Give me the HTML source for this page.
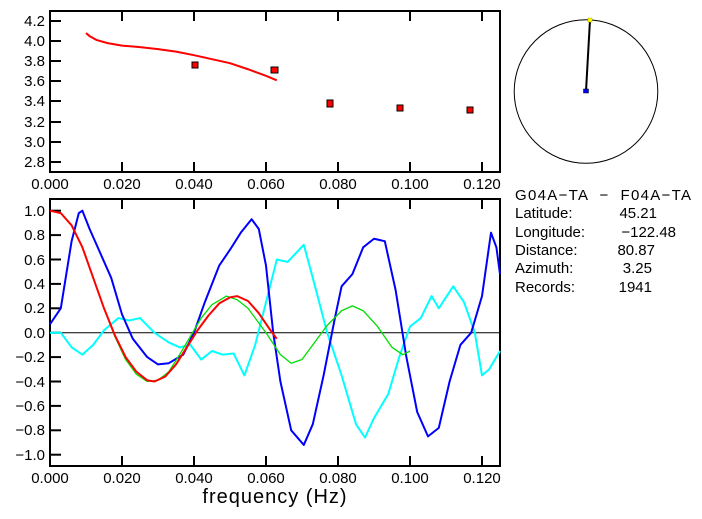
<!DOCTYPE html>
<html><head><style>
html,body{margin:0;padding:0;background:#fff;}
svg{display:block;font-family:"Liberation Sans",sans-serif;}
</style></head><body>
<svg width="702" height="519" viewBox="0 0 702 519" xmlns="http://www.w3.org/2000/svg">
<rect width="702" height="519" fill="#fff"/>
<!-- top frame -->
<rect x="50" y="11" width="450" height="161" fill="none" stroke="#000" stroke-width="2"/>
<g stroke="#000" stroke-width="2">
<line x1="122" y1="172" x2="122" y2="162"/><line x1="194" y1="172" x2="194" y2="162"/><line x1="266" y1="172" x2="266" y2="162"/><line x1="338" y1="172" x2="338" y2="162"/><line x1="410" y1="172" x2="410" y2="162"/><line x1="482" y1="172" x2="482" y2="162"/>
<line x1="122" y1="11" x2="122" y2="21"/><line x1="194" y1="11" x2="194" y2="21"/><line x1="266" y1="11" x2="266" y2="21"/><line x1="338" y1="11" x2="338" y2="21"/><line x1="410" y1="11" x2="410" y2="21"/><line x1="482" y1="11" x2="482" y2="21"/>
<line x1="50" y1="21" x2="61" y2="21"/><line x1="50" y1="41" x2="61" y2="41"/><line x1="50" y1="61" x2="61" y2="61"/><line x1="50" y1="81" x2="61" y2="81"/><line x1="50" y1="101" x2="61" y2="101"/><line x1="50" y1="122" x2="61" y2="122"/><line x1="50" y1="142" x2="61" y2="142"/><line x1="50" y1="162" x2="61" y2="162"/>
</g>
<g font-size="15" text-anchor="end">
<text x="45" y="26">4.2</text><text x="45" y="46">4.0</text><text x="45" y="66">3.8</text><text x="45" y="86">3.6</text><text x="45" y="106">3.4</text><text x="45" y="127">3.2</text><text x="45" y="147">3.0</text><text x="45" y="167">2.8</text>
</g>
<g font-size="15" text-anchor="middle">
<text x="50" y="189">0.000</text><text x="122" y="189">0.020</text><text x="194" y="189">0.040</text><text x="266" y="189">0.060</text><text x="338" y="189">0.080</text><text x="410" y="189">0.100</text><text x="482" y="189">0.120</text>
</g>
<g transform="matrix(3600 0 0 -100.5 50 443.1)">
<polyline fill="none" stroke="#f00" stroke-width="2" stroke-linejoin="round" vector-effect="non-scaling-stroke" points="0.010,4.08 0.011,4.05 0.013,4.01 0.016,3.98 0.02,3.955 0.025,3.94 0.03,3.92 0.035,3.895 0.04,3.86 0.045,3.82 0.05,3.78 0.055,3.72 0.06,3.655 0.063,3.61"/>
</g>
<g fill="#f00" stroke="#000" stroke-width="1">
<rect x="192" y="62" width="6" height="6"/><rect x="271" y="67" width="7" height="6"/><rect x="327" y="100" width="6" height="7"/><rect x="397" y="105" width="6" height="6"/><rect x="467" y="107" width="6" height="6"/>
</g>
<!-- bottom frame -->
<rect x="50" y="199" width="450" height="267" fill="none" stroke="#000" stroke-width="2"/>
<g stroke="#000" stroke-width="2">
<line x1="122" y1="466" x2="122" y2="456"/><line x1="194" y1="466" x2="194" y2="456"/><line x1="266" y1="466" x2="266" y2="456"/><line x1="338" y1="466" x2="338" y2="456"/><line x1="410" y1="466" x2="410" y2="456"/><line x1="482" y1="466" x2="482" y2="456"/>
<line x1="122" y1="199" x2="122" y2="209"/><line x1="194" y1="199" x2="194" y2="209"/><line x1="266" y1="199" x2="266" y2="209"/><line x1="338" y1="199" x2="338" y2="209"/><line x1="410" y1="199" x2="410" y2="209"/><line x1="482" y1="199" x2="482" y2="209"/>
<line x1="50" y1="210.7" x2="61" y2="210.7"/><line x1="50" y1="235.1" x2="61" y2="235.1"/><line x1="50" y1="259.5" x2="61" y2="259.5"/><line x1="50" y1="283.9" x2="61" y2="283.9"/><line x1="50" y1="308.3" x2="61" y2="308.3"/><line x1="50" y1="332.7" x2="61" y2="332.7"/><line x1="50" y1="357.1" x2="61" y2="357.1"/><line x1="50" y1="381.5" x2="61" y2="381.5"/><line x1="50" y1="405.9" x2="61" y2="405.9"/><line x1="50" y1="430.3" x2="61" y2="430.3"/><line x1="50" y1="454.7" x2="61" y2="454.7"/>
</g>
<line x1="50" y1="332.7" x2="500" y2="332.7" stroke="#000" stroke-width="1"/>
<g font-size="15" text-anchor="end">
<text x="45" y="216">1.0</text><text x="45" y="240">0.8</text><text x="45" y="265">0.6</text><text x="45" y="289">0.4</text><text x="45" y="313">0.2</text><text x="45" y="338">0.0</text><text x="45" y="362">−0.2</text><text x="45" y="387">−0.4</text><text x="45" y="411">−0.6</text><text x="45" y="435">−0.8</text><text x="45" y="460">−1.0</text>
</g>
<g font-size="15" text-anchor="middle">
<text x="50" y="483">0.000</text><text x="122" y="483">0.020</text><text x="194" y="483">0.040</text><text x="266" y="483">0.060</text><text x="338" y="483">0.080</text><text x="410" y="483">0.100</text><text x="482" y="483">0.120</text>
</g>
<text x="275" y="503" font-size="20" text-anchor="middle" letter-spacing="1">frequency (Hz)</text>
<g transform="matrix(3600 0 0 -122 50 332.7)" fill="none" stroke-linejoin="round">
<polyline stroke="#0ff" stroke-width="2" vector-effect="non-scaling-stroke" points="0,0 0.003,0 0.006,-0.12 0.009,-0.18 0.012,-0.1 0.015,0.02 0.019,0.12 0.022,0.1 0.025,0.12 0.029,0 0.033,-0.08 0.036,-0.12 0.039,-0.1 0.042,-0.22 0.045,-0.15 0.048,-0.18 0.051,-0.17 0.054,-0.35 0.057,-0.1 0.06,0.25 0.063,0.6 0.066,0.58 0.0705,0.72 0.073,0.45 0.077,0 0.081,-0.35 0.085,-0.75 0.0875,-0.86 0.09,-0.7 0.094,-0.5 0.097,-0.2 0.1,0.05 0.103,0.12 0.106,0.3 0.108,0.2 0.112,0.38 0.115,0.25 0.118,0 0.12,-0.35 0.122,-0.3 0.125,-0.15"/>
<polyline stroke="#00f" stroke-width="2" vector-effect="non-scaling-stroke" points="0,0.07 0.003,0.2 0.006,0.75 0.008,0.98 0.009,1 0.011,0.85 0.014,0.65 0.017,0.45 0.02,0.15 0.023,-0.05 0.027,-0.2 0.03,-0.26 0.033,-0.25 0.037,-0.18 0.04,0 0.043,0.25 0.047,0.55 0.05,0.68 0.053,0.82 0.056,0.93 0.058,0.85 0.06,0.55 0.062,0 0.064,-0.4 0.067,-0.8 0.0705,-0.92 0.073,-0.75 0.076,-0.35 0.079,0.1 0.081,0.38 0.084,0.48 0.087,0.7 0.09,0.77 0.093,0.75 0.096,0.35 0.099,-0.2 0.102,-0.65 0.105,-0.85 0.108,-0.78 0.111,-0.4 0.114,-0.1 0.117,0 0.12,0.3 0.1225,0.82 0.124,0.7 0.125,0.48"/>
<polyline stroke="#0d0" stroke-width="1.3" vector-effect="non-scaling-stroke" points="0.009,0.7 0.012,0.45 0.015,0.2 0.018,-0.03 0.021,-0.22 0.024,-0.34 0.027,-0.4 0.03,-0.39 0.033,-0.32 0.036,-0.18 0.039,-0.03 0.042,0.12 0.045,0.23 0.049,0.3 0.052,0.27 0.055,0.2 0.06,0 0.064,-0.18 0.067,-0.25 0.07,-0.22 0.073,-0.1 0.077,0.06 0.081,0.18 0.084,0.22 0.087,0.18 0.091,0.05 0.095,-0.12 0.098,-0.18 0.1,-0.15"/>
<polyline stroke="#f00" stroke-width="2" vector-effect="non-scaling-stroke" points="0,1 0.003,0.98 0.006,0.88 0.009,0.7 0.012,0.45 0.015,0.2 0.018,-0.02 0.021,-0.2 0.024,-0.32 0.027,-0.39 0.029,-0.4 0.032,-0.36 0.035,-0.26 0.038,-0.12 0.041,0.02 0.044,0.14 0.047,0.24 0.05,0.29 0.052,0.3 0.055,0.26 0.058,0.16 0.061,0.03 0.063,-0.05"/>
</g>
<!-- circle -->
<circle cx="586" cy="91.5" r="71.8" fill="none" stroke="#000" stroke-width="1"/>
<line x1="586" y1="91" x2="590" y2="20" stroke="#000" stroke-width="2"/>
<rect x="588" y="18" width="4" height="4" fill="#ff0" stroke="#aa0" stroke-width="0.5"/>
<rect x="583.5" y="89" width="5" height="4" fill="#00f" stroke="#000" stroke-width="0.5"/>
<g font-size="15">
<text x="515" y="200" xml:space="preserve" textLength="176" lengthAdjust="spacing">G04A−TA  −  F04A−TA</text>
<text x="515" y="218">Latitude:</text><text x="657" y="218" text-anchor="end">45.21</text>
<text x="515" y="237">Longitude:</text><text x="676" y="237" text-anchor="end">−122.48</text>
<text x="515" y="255">Distance:</text><text x="655" y="255" text-anchor="end">80.87</text>
<text x="515" y="273">Azimuth:</text><text x="652" y="273" text-anchor="end">3.25</text>
<text x="515" y="292">Records:</text><text x="652" y="292" text-anchor="end">1941</text>
</g>
</svg>
</body></html>
